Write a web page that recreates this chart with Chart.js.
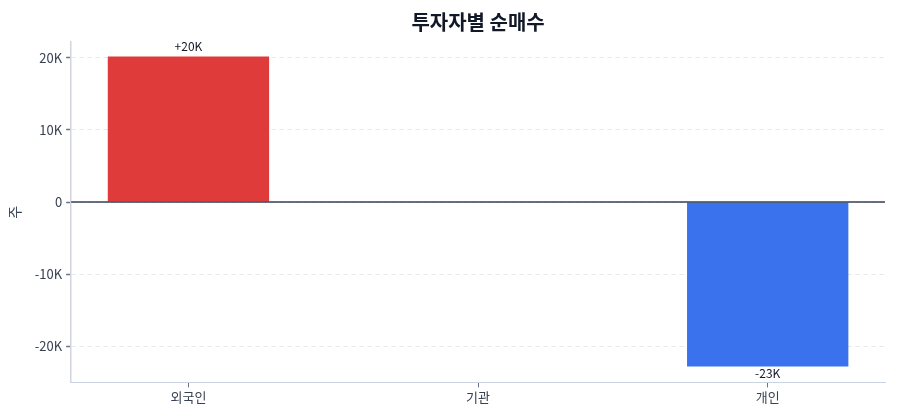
<!DOCTYPE html>
<html>
<head>
<meta charset="utf-8">
<script src="https://cdn.jsdelivr.net/npm/chart.js@4.4.1/dist/chart.umd.min.js"></script>
<style>
  html,body{margin:0;padding:0;background:#fff;}
  #wrap{width:900px;height:420px;}
</style>
</head>
<body>
<div id="wrap"><canvas id="c"></canvas></div>
<script>
const categories = ['외국인', '기관', '개인'];
const netBuy = [20200, 0, -22800];
const valueLabels = ['+20K', '', '-23K'];
const yTickValues = [-20000, -10000, 0, 10000, 20000];
const yTickLabels = ['-20K', '-10K', '0', '10K', '20K'];
const titleText = '투자자별 순매수';
const yAxisTitle = '주';

const FONT = "'Noto Sans CJK KR', 'Noto Sans', sans-serif";
const barColors = netBuy.map(v => v >= 0 ? 'rgba(220,38,38,0.9)' : 'rgba(37,99,235,0.9)');

const zeroAndLabels = {
  id: 'zeroAndLabels',
  afterDatasetsDraw(chart) {
    const {ctx, chartArea, scales} = chart;
    const y0 = scales.y.getPixelForValue(0);
    ctx.save();
    ctx.strokeStyle = '#334155';
    ctx.lineWidth = 1.5;
    ctx.beginPath();
    ctx.moveTo(chartArea.left, y0);
    ctx.lineTo(chartArea.right, y0);
    ctx.stroke();
    const meta = chart.getDatasetMeta(0);
    ctx.font = "12px " + FONT;
    ctx.fillStyle = '#111827';
    ctx.textAlign = 'center';
    meta.data.forEach((bar, i) => {
      const txt = valueLabels[i];
      if (!txt) return;
      if (netBuy[i] >= 0) {
        ctx.textBaseline = 'bottom';
        ctx.fillText(txt, bar.x, bar.y - 4);
      } else {
        ctx.textBaseline = 'top';
        ctx.fillText(txt, bar.x, bar.y + 1);
      }
    });
    ctx.restore();
  },
  afterDraw(chart) {
    const {ctx, chartArea} = chart;
    ctx.save();
    ctx.font = "bold 20px " + FONT;
    ctx.fillStyle = '#111827';
    ctx.textAlign = 'center';
    ctx.textBaseline = 'middle';
    ctx.fillText(titleText, (chartArea.left + chartArea.right) / 2, 22);
    ctx.restore();
  }
};

new Chart(document.getElementById('c'), {
  type: 'bar',
  data: {
    datasets: [{
      data: categories.map((c, i) => ({x: i, y: netBuy[i]})),
      backgroundColor: barColors,
      borderWidth: 0,
      barPercentage: 0.557,
      categoryPercentage: 1.0
    }]
  },
  options: {
    responsive: true,
    maintainAspectRatio: false,
    animation: false,
    layout: {padding: {top: 42, right: 15, left: 2, bottom: 13}},
    plugins: {
      legend: {display: false},
      title: {display: false},
      tooltip: {enabled: false}
    },
    scales: {
      x: {
        type: 'linear',
        offset: false,
        min: -0.405,
        max: 2.405,
        afterBuildTicks: s => { s.ticks = categories.map((c, i) => ({value: i})); },
        ticks: {
          callback: v => categories[v] ?? '',
          color: '#374151',
          font: {family: FONT, size: 13},
          padding: 2,
          maxRotation: 0,
          autoSkip: false
        },
        grid: {offset: false, drawOnChartArea: false, tickLength: 5, tickColor: '#64748b', tickWidth: 1},
        border: {display: true, color: '#cbd5e1', width: 1}
      },
      y: {
        min: -25000,
        max: 22200,
        afterBuildTicks: s => { s.ticks = yTickValues.map(v => ({value: v})); },
        ticks: {
          callback: (v) => yTickLabels[yTickValues.indexOf(v)] ?? '',
          color: '#374151',
          font: {family: FONT, size: 13},
          padding: 4
        },
        title: {display: true, text: yAxisTitle, color: '#374151', font: {family: FONT, size: 14}, padding: {top: 4, bottom: 8}},
        grid: {color: '#e5e7eb', lineWidth: 1, tickLength: 5, tickColor: '#64748b', tickWidth: 1.5},
        border: {display: true, color: '#d1d5db', width: 1.5, dash: [4, 4]}
      }
    }
  },
  plugins: [zeroAndLabels]
});
</script>
</body>
</html>
